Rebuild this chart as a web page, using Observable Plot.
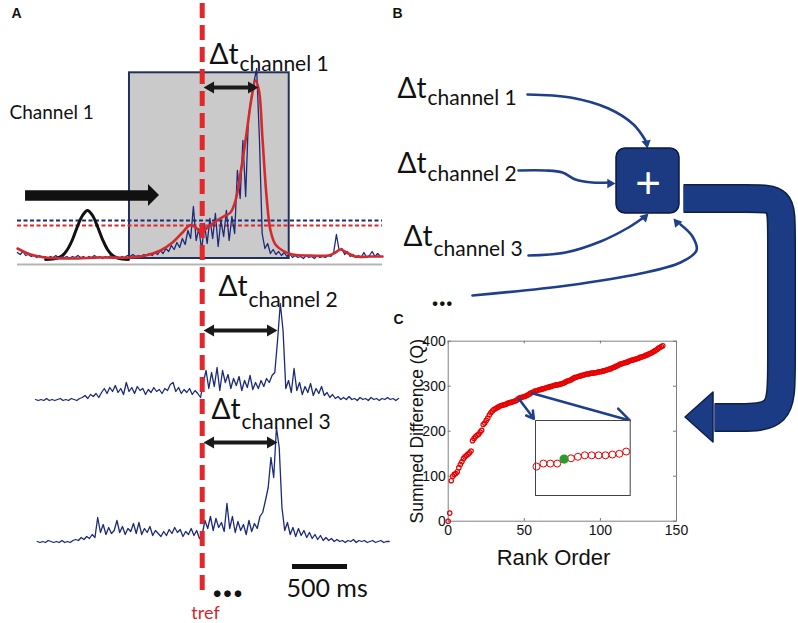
<!DOCTYPE html>
<html><head><meta charset="utf-8">
<script src="https://cdn.jsdelivr.net/npm/d3@7"></script>
<script src="https://cdn.jsdelivr.net/npm/@observablehq/plot@0.6"></script>
<style>
html,body{margin:0;padding:0;background:#fff;}
#fig{position:relative;width:798px;height:623px;overflow:hidden;background:#fff;}
</style></head><body><div id="fig"></div>
<script>
// ================= DATA =================
// Panel C: summed difference Q by rank order (rank = index)
const rankQ = [0,18,90,100,104,106,110,119,126,132,
139,143,146,149,152,156,179,184,188,191,
193,198,202,215,218,224,229,236,241,245,
248,250,252,254,256,257,258,259,260,262,
263,264,265,266,267,269,272,274,275,276,
277,278,280,282,284,286,287,289,290,291,
292,293,294,295,296,297,298,299,300,301,
302,303,303,304,305,306,307,309,311,312,
313,315,317,319,320,321,322,323,324,325,
326,327,327,328,329,329,330,330,331,332,
332,333,334,335,336,337,338,339,341,342,
344,345,347,349,350,351,352,353,354,356,
357,358,359,360,361,362,364,365,366,367,
369,370,372,373,375,377,379,381,384,386,
388,390];
const xTicksC = [0, 50, 100, 150];
const yTicksC = [0, 100, 200, 300, 400];
// Inset (zoomed view)
const insetRanks = [45,46,47,48,49,50,51,52,53,54,55,56,57,58];
const insetQ = [281,283,283,283,286,286.5,287.5,288.5,288.5,288.5,288.5,289,289.5,291];
const insetHighlight = {rank: 49, q: 286};

// Panel A: recorded traces (amplitude above baseline), sampled every 25 ms
const sampleStepMs = 25;
const ch1Start = -1680;
const ch1Blue = [6,4,7,3,4,2,3,1,3,1, 2,0,2,1,3,0,2,1,2,0, 2,1,3,1,2,0,2,1,3,1, 2,0,2,1,3,1,2,0,2,1,
 3,2,4,2,3,2,4,3,5,3, 6,4,8,5,10,7,13,9,16,11, 20,14,28,20,52,18,30,8,35,15, 40,20,45,12,38,22,48,18,42,25,
 88,60,118,62,140,160,176,190,120,25, 10,15,5,9,4,7,3,6,2,5, 1,3,1,2,0,3,1,2,0,3, 1,2,1,3,2,6,24,8,10,4,
 7,2,4,1,3,1,6,1,3,7, 2,5,2];
const ch2Start = -1515;
const ch2Blue = [1,0,1,0,2,0,1,0,1,2,0,1,0,2,1,0,2,
 3,5,2,6,4,7,3,
 8,12,7,13,9,15,8,12,6,18, 9,13,7,14,10,12,6,11,8,13, 9,11,7,12,10,16,18,9,13,7, 11,8,12,6,10,7,3,
 18,30,12,28,14,33,10,30,18,26, 12,22,15,24,10,20,13,25,11,18, 12,20,14,22,18,25,28,
 60,97,70,12,20,8,32,10,18,6, 14,8,17,5,12,7,14,5,8,3, 6,2,4,
 1,3,1,4,1,2,0,3,1,2,0,3,1,2,0,2,1,3,1,2,0,2];
const ch3Start = -1500;
const ch3Blue = [1,0,1,0,2,1,0,1,0,2,0,1,0,2,
 3,2,5,3,6,4,8,5,
 25,10,18,8,15,9,12,22,10,16, 8,14,11,19,9,20,8,14,10,16, 7,12,9,6,11,7,13,9,15,10, 13,6,11,8,14,7,12,4,8,
 22,14,26,12,24,15,20,11,39,14, 26,10,21,12,18,8,22,11,19,14, 26,30,42,55,85,65,115,95,35,
 12,20,8,15,6,14,7,12,5,10, 4,8,3,7,2,5,2,4,1,3, 1,2,0,2,1,3,0,2,1,2, 0,1,2,0,1,2,0,1,1];
// Smoothed envelope of channel 1 (ms, amplitude)
const ch1RedT = [-1679,-1561,-1425,-1197,-925,-652,-515,-379,-270,-179,-115,-70,-6,48,121,194,257,303,348,403,448,485,516,548,585,621,666,730,821,985,1148,1212,1257,1312,1394,1530,1639];
const ch1RedA = [10,4,1,0,1,1,3,8,16,26,33,32,26,31,37,42,46,58,85,125,160,178,168,120,62,28,14,8,4,3,3,6,9,6,2,2,2];
// Template waveform slid along channel 1 (ms, amplitude)
const templateT = [-1424,-1361,-1315,-1270,-1225,-1179,-1134,-1088,-1043,-997,-952,-906,-861,-815,-770,-725,-670];
const templateA = [0,0.5,1.5,4,10,20,33,44,49,44,33,20,10,4,1.5,0.5,0];
// Threshold levels (amplitude) and time offsets to tref (ms)
const thresholdBlue = 38, thresholdRed = 33;
const channelNames = ["channel 1", "channel 2", "channel 3"];
const deltaTms = [512, 685, 685];
const scaleBarMs = 500;

// ================= LAYOUT =================
const fig = document.getElementById("fig");
const navy = "#1c2a78", red = "#e0262a", dark = "#111";
const abs = (l, t) => ({position: "absolute", left: l + "px", top: t + "px", background: "transparent", overflow: "visible"});
const chOffset = [365, 223, 81];

function traceRows(start, arr, ch) {
  return arr.map((a, i) => ({t: start + i * sampleStepMs, v: chOffset[ch] + a, ch}));
}
const blueRows = [...traceRows(ch1Start, ch1Blue, 0), ...traceRows(ch2Start, ch2Blue, 1), ...traceRows(ch3Start, ch3Blue, 2)];
const redRows = ch1RedT.map((t, i) => ({t, v: chOffset[0] + ch1RedA[i]}));
const templRows = templateT.map((t, i) => ({t, v: chOffset[0] - 1 + templateA[i]}));

// ---------- Panel B diagram (canvas coordinates) ----------
const bandPath = [[683,198],[752,198],[781,198],[781,227],[781,372],[781,417],[736,417],[714,417]].map(([x,y])=>({x,y}));
const bandHead = [{y:392,x1:713,x2:713},{y:417,x1:685,x2:713},{y:442,x1:713,x2:713}];
const thinArrows = [
  {id:1, pts:[[527,94],[570,97],[608,108],[633,124],[645,140]], tip:[647,148], rot:170},
  {id:2, pts:[[518,170],[545,170],[562,172],[575,179],[592,182],[609,182]], tip:[615,183], rot:90},
  {id:3, pts:[[528,255],[565,252],[600,241],[628,227],[643,217]], tip:[648,213], rot:45},
  {id:4, pts:[[472,295],[567,285],[640,273],[680,262],[696,250],[692,236],[680,224]], tip:[673,218], rot:-40}
];
const thinRows = thinArrows.flatMap(a => a.pts.map(([x,y]) => ({id:a.id, x, y})));
const headB = thinArrows.map(a => {
  const r = a.rot * Math.PI / 180, d = 5.45;
  return {x: a.tip[0] - d*Math.sin(r), y: a.tip[1] + d*Math.cos(r), rot: a.rot};
});
const dtB = [
  {x:397, y:97, sx:427, sy:104, name: channelNames[0]},
  {x:397, y:172, sx:427, sy:180, name: channelNames[1]},
  {x:403, y:245, sx:433, sy:255, name: channelNames[2]}
];
const letters = [{x:11, y:17, s:"A"}, {x:392, y:17, s:"B"}, {x:393, y:323, s:"C"}];

const B = Plot.plot({
  width: 798, height: 623, margin: 0,
  x: {domain: [0, 798], axis: null},
  y: {domain: [0, 623], range: [0, 623], axis: null},
  style: {...abs(0, 0), fontFamily: "Lato"},
  marks: [
    Plot.line(bandPath, {x:"x", y:"y", curve:"basis", stroke:"#0e1f48", strokeWidth:29, strokeLinecap:"butt", strokeLinejoin:"round"}),
    Plot.areaX(bandHead, {y:"y", x1:"x1", x2:"x2", fill:"#1c3b85", stroke:"#0e1f48", strokeWidth:1.5}),
    Plot.line(bandPath, {x:"x", y:"y", curve:"basis", stroke:"#1c3b85", strokeWidth:26, strokeLinecap:"butt", strokeLinejoin:"round"}),
    Plot.line(thinRows, {x:"x", y:"y", z:"id", curve:"catmull-rom", stroke:"#1f3f8c", strokeWidth:2.6}),
    Plot.dot(headB, {x:"x", y:"y", rotate:"rot", symbol:"triangle", r:3.5, fill:"#1f3f8c", stroke:"none"}),
    Plot.rect([{x1:616, x2:679, y1:148, y2:213}], {x1:"x1", x2:"x2", y1:"y1", y2:"y2", rx:9, fill:"#1b3a82", stroke:"#0c1a3a", strokeWidth:1.5}),
    Plot.text(["+"], {x:647.5, y:183, fontSize:44, fill:"white", fontFamily:"Liberation Sans, Arial", lineAnchor:"middle"}),
    Plot.text(dtB, {x:"x", y:"y", text: () => "Δt", fontSize:28, textAnchor:"start", lineAnchor:"bottom", fill:dark}),
    Plot.text(dtB, {x:"sx", y:"sy", text:"name", fontSize:21, textAnchor:"start", lineAnchor:"bottom", fill:dark}),
    Plot.text(["..."], {x:431, y:305, fontSize:30, fontWeight:"bold", textAnchor:"start", lineAnchor:"bottom", fill:dark}),
    Plot.text(letters, {x:"x", y:"y", text:"s", fontSize:14, fontWeight:"bold", fontFamily:"Liberation Sans, Arial", textAnchor:"start", lineAnchor:"bottom", fill:dark})
  ]
});
fig.appendChild(B);

// ---------- Panel A traces (time in ms relative to tref) ----------
const dtA = [
  {t:66, v:560, st:339, sv:553, y:536, name: channelNames[0], d: deltaTms[0]},
  {t:148, v:328, st:421, sv:317, y:293, name: channelNames[1], d: deltaTms[1]},
  {t:85, v:205, st:357, sv:195, y:181, name: channelNames[2], d: deltaTms[2]}
];
const arrStart = 12, headMs = 64;
const headsA = dtA.flatMap(r => [{t: arrStart + headMs, y: r.y, rot: -90}, {t: r.d - headMs, y: r.y, rot: 90}]);
const bigHead = [{v:439,t1:-488,t2:-488},{v:428,t1:-388,t2:-488},{v:417,t1:-488,t2:-488}];

const A = Plot.plot({
  width: 400, height: 623, margin: 0,
  x: {domain: [-1833.6, 1802.7], axis: null},
  y: {domain: [0, 623], axis: null},
  style: {...abs(0, 0), fontFamily: "Lato"},
  marks: [
    Plot.rect([{x1:-661, x2:791, y1:365, y2:550.7}], {x1:"x1", x2:"x2", y1:"y1", y2:"y2", fill:"#cacaca", stroke:"#23305a", strokeWidth:2}),
    Plot.ruleY([chOffset[0] - 6], {x1:-1679, x2:1639, stroke:"#b5b5b5", strokeWidth:2}),
    Plot.ruleY([chOffset[0] + thresholdBlue], {x1:-1679, x2:1639, stroke:navy, strokeWidth:1.8, strokeDasharray:"4,2.5"}),
    Plot.ruleY([chOffset[0] + thresholdRed], {x1:-1679, x2:1639, stroke:red, strokeWidth:1.8, strokeDasharray:"4,2.5"}),
    Plot.line(templRows, {x:"t", y:"v", curve:"catmull-rom", stroke:dark, strokeWidth:3}),
    Plot.line(blueRows, {x:"t", y:"v", z:"ch", stroke:navy, strokeWidth:1.3}),
    Plot.line(redRows, {x:"t", y:"v", curve:"catmull-rom", stroke:"#d42a2e", strokeWidth:2.6}),
    Plot.ruleX([0], {y1:620, y2:31, stroke:"#e3262a", strokeWidth:5, strokeDasharray:"15,7"}),
    Plot.ruleY([428], {x1:-1606, x2:-480, stroke:dark, strokeWidth:10.5}),
    Plot.areaX(bigHead, {y:"v", x1:"t1", x2:"t2", fill:dark}),
    Plot.link(dtA, {x1: () => arrStart + 40, x2: d => d.d - 40, y1:"y", y2:"y", stroke:"#1a1a1a", strokeWidth:4}),
    Plot.dot(headsA, {x:"t", y:"y", rotate:"rot", symbol:"triangle", r:4.5, fill:"#1a1a1a", stroke:"none"}),
    Plot.text(dtA, {x:"t", y:"v", text: () => "Δt", fontSize:28, textAnchor:"start", lineAnchor:"bottom", fill:dark}),
    Plot.text(dtA, {x:"st", y:"sv", text:"name", fontSize:21, textAnchor:"start", lineAnchor:"bottom", fill:dark}),
    Plot.text(["Channel 1"], {x:-1752, y:505, fontSize:19, textAnchor:"start", lineAnchor:"bottom", fill:dark}),
    Plot.text(["tref"], {x:30, y:5, fontSize:18, textAnchor:"middle", lineAnchor:"bottom", fill:"#d9262a"}),
    Plot.text(["..."], {x:88, y:27, fontSize:44, fontWeight:"bold", textAnchor:"start", lineAnchor:"bottom", fill:dark}),
    Plot.ruleY([57], {x1:821, x2:821 + scaleBarMs, stroke:dark, strokeWidth:5}),
    Plot.text([`${scaleBarMs} ms`], {x:766, y:27, fontSize:25, textAnchor:"start", lineAnchor:"bottom", fill:dark})
  ]
});
fig.appendChild(A);

// ---------- Panel C: rank order plot ----------
const cRows = rankQ.map((q, i) => ({rank: i, q}));
const C = Plot.plot({
  width: 320, height: 280,
  marginLeft: 67.7, marginRight: 24, marginTop: 40.7, marginBottom: 59.3,
  x: {domain: [0, 150]},
  y: {domain: [0, 400]},
  style: {...abs(380, 300), fontFamily: "Liberation Sans, Arial"},
  marks: [
    Plot.frame({stroke:"#808080", strokeWidth:1}),
    Plot.ruleX(xTicksC, {y1:0, y2:6, stroke:"#777"}),
    Plot.ruleX(xTicksC, {y1:394, y2:400, stroke:"#777"}),
    Plot.ruleY(yTicksC, {x1:0, x2:2, stroke:"#777"}),
    Plot.ruleY(yTicksC, {x1:148, x2:150, stroke:"#777"}),
    Plot.axisX({ticks: xTicksC, tickSize:0, tickPadding:4, fontSize:14, label:null, fill:dark}),
    Plot.axisY({ticks: yTicksC, tickSize:0, tickPadding:2.5, fontSize:14, label:null, fill:dark}),
    Plot.dot(cRows, {x:"rank", y:"q", r:2.2, stroke:"#e60000", strokeWidth:1.2, fill:"none"}),
    Plot.arrow([{x1:46.4, y1:272, x2:56.3, y2:227.6}, {x1:55.2, y1:284.5, x2:119.3, y2:223.8}],
      {x1:"x1", y1:"y1", x2:"x2", y2:"y2", bend:0, headLength:10, stroke:"#1f3f8c", strokeWidth:2.5}),
    Plot.text(["Rank Order"], {x:69.2, y:-98.4, fontSize:22, textAnchor:"middle", lineAnchor:"bottom", fill:dark}),
    Plot.text(["Summed Difference (Q)"], {x:-20.5, y:200, rotate:-90, fontSize:17.5, textAnchor:"middle", lineAnchor:"middle", fill:dark})
  ]
});
fig.appendChild(C);

// ---------- Inset ----------
const insetRows = insetRanks.map((r, i) => ({rank: r, q: insetQ[i]}));
const I = Plot.plot({
  width: 105, height: 85,
  marginLeft: 5, marginTop: 5, marginRight: 5.3, marginBottom: 5,
  x: {domain: [44.855, 58.58], axis: null},
  y: {domain: [261.7, 311.7], axis: null},
  style: abs(530, 415),
  marks: [
    Plot.frame({fill:"white", stroke:"#444"}),
    Plot.dot(insetRows, {x:"rank", y:"q", r:3.5, stroke:"#e60000", strokeWidth:1, fill:"none"}),
    Plot.dot([insetHighlight], {x:"rank", y:"q", r:4.6, fill:"#2e9a2e", stroke:"none"})
  ]
});
fig.appendChild(I);
</script></body></html>
